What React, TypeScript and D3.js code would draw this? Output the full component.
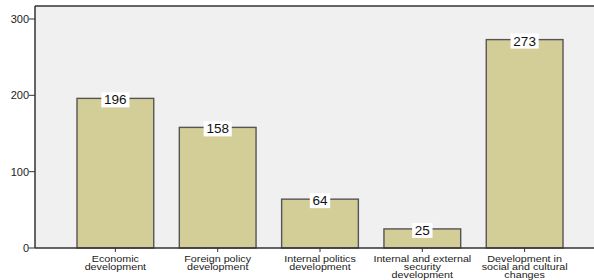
import React from "react";
import * as d3 from "d3";

const categories: string[][] = [
  ["Economic", "development"],
  ["Foreign policy", "development"],
  ["Internal politics", "development"],
  ["Internal and external", "security", "development"],
  ["Development in", "social and cultural", "changes"],
];
const values: number[] = [196, 158, 64, 25, 273];
const yTicks: number[] = [0, 100, 200, 300];

const W = 594;
const H = 280;
const plotLeft = 35;
const plotTop = 6;
const plotBottom = 248;

export default function App() {
  const x = d3
    .scaleBand<number>()
    .domain(values.map((_, i) => i))
    .range([77, 563])
    .paddingInner(0.25)
    .paddingOuter(0);
  const y = d3.scaleLinear().domain([0, 300]).range([plotBottom, 19]);
  const bw = x.bandwidth();

  return (
    <svg
      width={W}
      height={H}
      style={{ position: "absolute", left: 0, top: 0, background: "#fff" }}
      fontFamily="'Liberation Sans', Arial, sans-serif"
    >
      <rect x={plotLeft} y={plotTop} width={W - plotLeft} height={plotBottom - plotTop} fill="#f0f0f0" />
      <line x1={plotLeft} x2={W} y1={plotTop} y2={plotTop} stroke="#333" strokeWidth={1.5} />
      {values.map((v, i) => (
        <rect
          key={i}
          x={x(i)}
          y={y(v)}
          width={bw}
          height={plotBottom - y(v)}
          fill="#d3ce98"
          stroke="#555"
          strokeWidth={1.4}
        />
      ))}
      <line x1={plotLeft} x2={plotLeft} y1={plotTop} y2={plotBottom} stroke="#333" strokeWidth={1.5} />
      <line x1={plotLeft} x2={W} y1={plotBottom} y2={plotBottom} stroke="#333" strokeWidth={1.5} />
      {yTicks.map((t) => (
        <g key={t}>
          <line x1={plotLeft - 6} x2={plotLeft} y1={y(t)} y2={y(t)} stroke="#333" strokeWidth={1} />
          <text x={plotLeft - 6} y={y(t)} dy="0.35em" textAnchor="end" fontSize={11} fill="#222">
            {t}
          </text>
        </g>
      ))}
      {values.map((v, i) => {
        const cx = (x(i) as number) + bw / 2;
        const label = String(v);
        const boxW = label.length * 7.7 + 5;
        return (
          <g key={"l" + i}>
            <rect x={cx - boxW / 2} y={y(v) - 6} width={boxW} height={15} fill="#fff" />
            <text x={cx} y={y(v) + 6} textAnchor="middle" fontSize={13.5} fill="#111">
              {label}
            </text>
          </g>
        );
      })}
      {categories.map((lines, i) => {
        const cx = (x(i) as number) + bw / 2;
        return (
          <g key={"c" + i}>
            <line x1={cx} x2={cx} y1={plotBottom} y2={plotBottom + 4} stroke="#333" strokeWidth={1} />
            {lines.map((ln, j) => (
              <text
                key={j}
                x={0}
                y={0}
                transform={`translate(${cx},${261.5 + j * 8.4}) scale(1.25,1)`}
                textAnchor="middle"
                fontSize={8.6}
                fill="#222"
              >
                {ln}
              </text>
            ))}
          </g>
        );
      })}
    </svg>
  );
}
